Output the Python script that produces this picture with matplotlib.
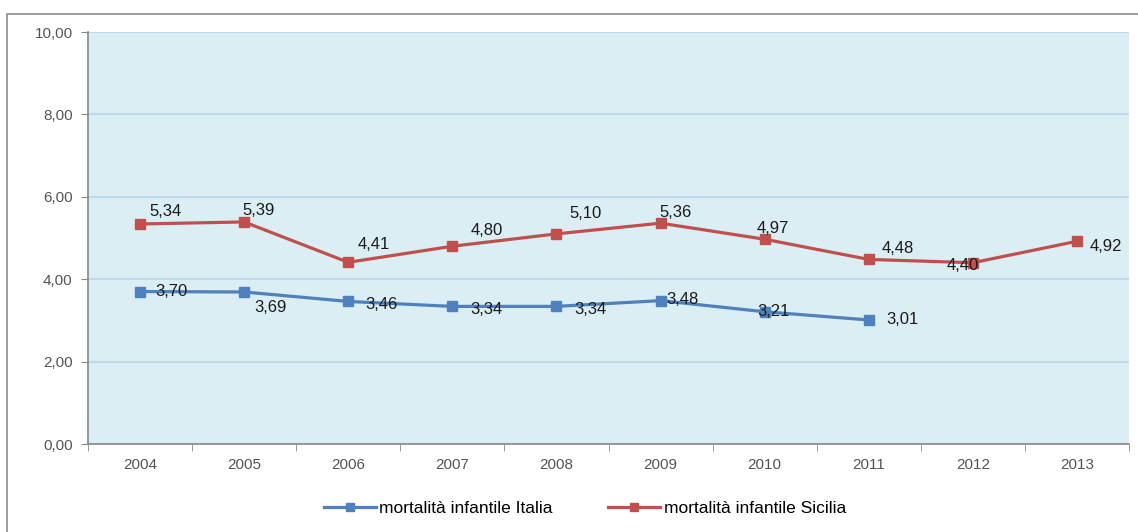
import matplotlib.pyplot as plt
from matplotlib.patches import Rectangle
from matplotlib.ticker import FuncFormatter

# data
years = ['2004', '2005', '2006', '2007', '2008', '2009', '2010', '2011', '2012', '2013']
italia = [3.70, 3.69, 3.46, 3.34, 3.34, 3.48, 3.21, 3.01]
sicilia = [5.34, 5.39, 4.41, 4.80, 5.10, 5.36, 4.97, 4.48, 4.40, 4.92]
series_names = ['mortalità infantile Italia', 'mortalità infantile Sicilia']

# label offsets in points (dx, dy)
italia_off = [(11, 0), (7, -11), (12, -2), (13, -2), (13, -2), (4, 1), (-5, 0), (13, 0)]
sicilia_off = [(7, 9), (-1, 8), (7, 13), (13, 11), (9, 15), (-1, 8), (-6, 8), (9, 8), (-19, -2), (9, -4)]

blue = '#4F81BD'
red = '#C0504D'
plt.rcParams['font.family'] = ['Liberation Sans', 'DejaVu Sans']

fig = plt.figure(figsize=(11.38, 5.32), dpi=100)
ax = fig.add_axes([88 / 1138, 88 / 532, 1041 / 1138, 412 / 532])

# outer chart border
fig.patches.append(Rectangle((7 / 1138, -0.05), 1.2, (532 - 14) / 532 + 0.05,
                             transform=fig.transFigure, fill=False,
                             edgecolor='#8c8c8c', linewidth=1.2))

ax.set_facecolor('#DBEEF4')
x_it = list(range(len(italia)))
x_si = list(range(len(sicilia)))
ax.plot(x_it, italia, color=blue, lw=2.3, marker='s', ms=6.5, label=series_names[0], zorder=3)
ax.plot(x_si, sicilia, color=red, lw=2.3, marker='s', ms=6.5, label=series_names[1], zorder=3)

for xv, yv, (dx, dy) in zip(x_it, italia, italia_off):
    ax.annotate(f'{yv:.2f}'.replace('.', ','), (xv, yv), xytext=(dx, dy),
                textcoords='offset points', ha='left', va='center', fontsize=12, color='#1a1a1a', zorder=4)
for xv, yv, (dx, dy) in zip(x_si, sicilia, sicilia_off):
    ax.annotate(f'{yv:.2f}'.replace('.', ','), (xv, yv), xytext=(dx, dy),
                textcoords='offset points', ha='left', va='center', fontsize=12, color='#1a1a1a', zorder=4)

ax.set_xlim(-0.5, len(years) - 0.5)
ax.set_ylim(0, 10)
ax.set_yticks([0, 2, 4, 6, 8, 10])
ax.yaxis.set_major_formatter(FuncFormatter(lambda v, p: f'{v:.2f}'.replace('.', ',')))
ax.set_xticks(range(len(years)))
ax.set_xticklabels(years)
ax.set_xticks([i - 0.5 for i in range(len(years) + 1)], minor=True)
ax.tick_params(axis='x', which='major', length=0, pad=10, labelsize=11, labelcolor='#555555')
ax.tick_params(axis='x', which='minor', length=5, color='#888888', direction='out')
ax.tick_params(axis='y', length=5, color='#888888', labelsize=11, labelcolor='#555555', pad=6)
ax.grid(axis='y', color='#B8D8E8', linewidth=1.2)
ax.set_axisbelow(True)
for s in ['top', 'right']:
    ax.spines[s].set_visible(False)
for s in ['left', 'bottom']:
    ax.spines[s].set_color('#888888')
    ax.spines[s].set_linewidth(1.2)

leg = fig.legend(loc='center', bbox_to_anchor=(585 / 1138, 1 - 508 / 532), ncol=2, frameon=False,
                 fontsize=12.5, handlelength=3, columnspacing=3.2, handletextpad=0.2, markerscale=0.8)

fig.savefig('out.png', dpi=100)
